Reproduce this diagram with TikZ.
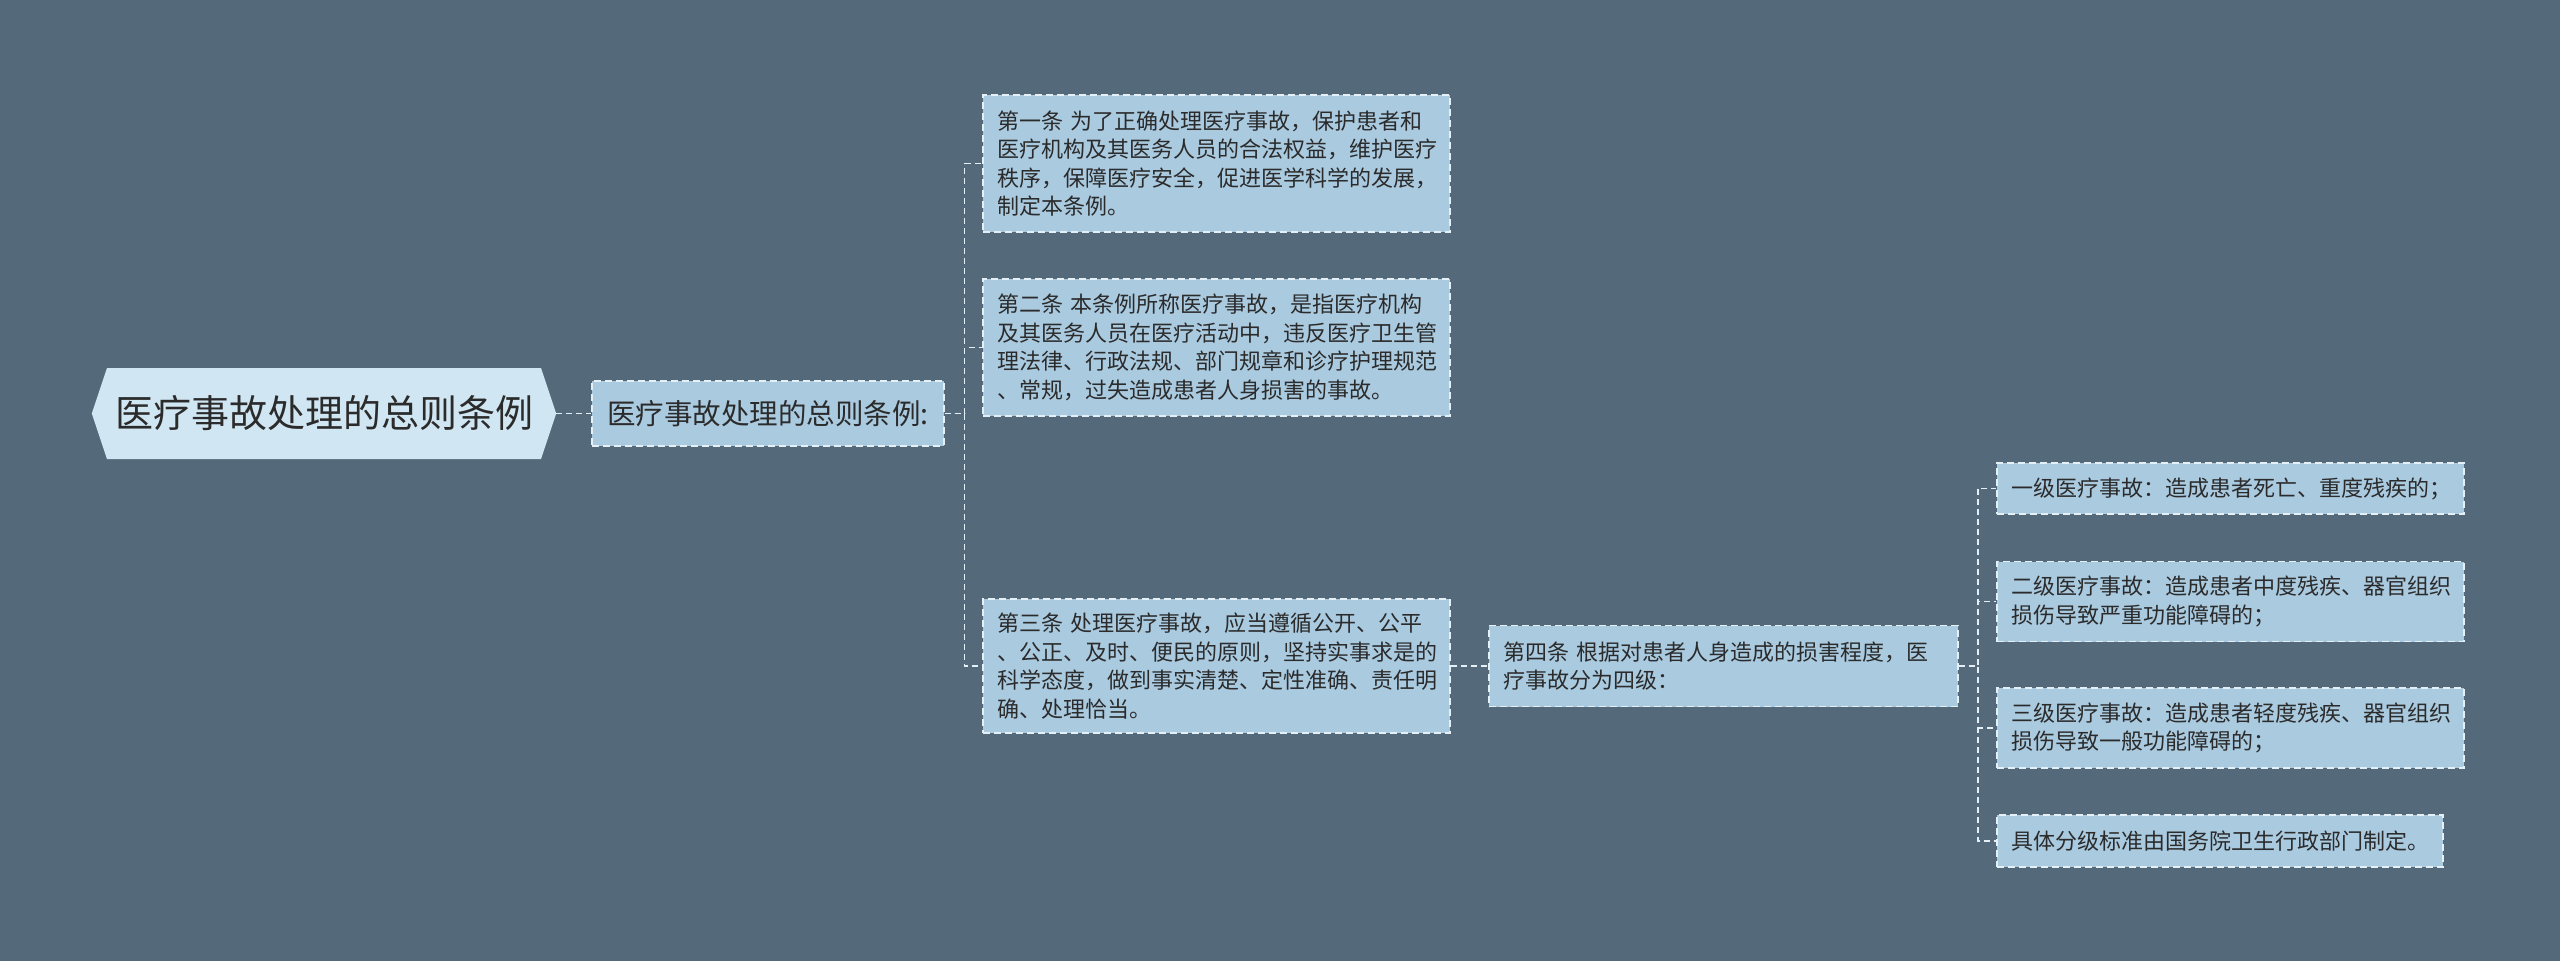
\documentclass[tikz,border=0pt]{standalone}
\usepackage{fontspec}
\setmainfont{Noto Sans CJK SC}
\usepackage{tikz}
\usetikzlibrary{shapes,arrows,positioning}

\definecolor{bgslate}{HTML}{546A7A}
\definecolor{rootblue}{HTML}{D0E6F2}
\definecolor{boxblue}{HTML}{AACAE0}
\definecolor{dashwhite}{HTML}{E4EFF6}
\definecolor{inkgray}{HTML}{2B2B2B}

\tikzset{
  box/.style={draw=dashwhite, fill=boxblue, line width=1.6pt, dash pattern=on 7pt off 4pt,
    text=inkgray, align=left, inner xsep=14pt, inner ysep=0pt,
    font=\fontsize{22}{28.5}\selectfont},
  link/.style={draw=dashwhite, line width=1.6pt, dash pattern=on 6pt off 4pt},
}

\begin{document}
\begin{tikzpicture}[x=1pt,y=-1pt]
\fill[bgslate] (0,0) rectangle (2560,961);

\node[signal, signal to=west and east, signal pointer angle=143, fill=rootblue, text=inkgray,
  minimum width=460pt, minimum height=91pt, inner xsep=8pt, font=\fontsize{38}{40}\selectfont]
  (root) at (324,413.5) {医疗事故处理的总则条例};

\node[box, inner xsep=15pt, minimum height=65pt, font=\fontsize{28.5}{30}\selectfont]
  (sub) at (768,413.5) {医疗事故处理的总则条例:};

\node[box, text width=439pt, minimum height=137pt] (art1) at (1216.5,163.5)
  {第一条 为了正确处理医疗事故，保护患者和\\医疗机构及其医务人员的合法权益，维护医疗\\秩序，保障医疗安全，促进医学科学的发展，\\制定本条例。};
\node[box, text width=439pt, minimum height=137pt] (art2) at (1216.5,347.5)
  {第二条 本条例所称医疗事故，是指医疗机构\\及其医务人员在医疗活动中，违反医疗卫生管\\理法律、行政法规、部门规章和诊疗护理规范\\、常规，过失造成患者人身损害的事故。};
\node[box, text width=439pt, minimum height=134pt] (art3) at (1216.5,666)
  {第三条 处理医疗事故，应当遵循公开、公平\\、公正、及时、便民的原则，坚持实事求是的\\科学态度，做到事实清楚、定性准确、责任明\\确、处理恰当。};
\node[box, text width=441pt, minimum height=81pt] (art4) at (1723.5,666)
  {第四条 根据对患者人身造成的损害程度，医\\疗事故分为四级：};

\node[box, text width=439pt, minimum height=51pt] (lvl1) at (2230.5,488.5)
  {一级医疗事故：造成患者死亡、重度残疾的；};
\node[box, text width=439pt, minimum height=80pt] (lvl2) at (2230.5,601.5)
  {二级医疗事故：造成患者中度残疾、器官组织\\损伤导致严重功能障碍的；};
\node[box, text width=439pt, minimum height=80pt] (lvl3) at (2230.5,728)
  {三级医疗事故：造成患者轻度残疾、器官组织\\损伤导致一般功能障碍的；};
\node[box, text width=418pt, minimum height=52pt] (lvl4) at (2220,841)
  {具体分级标准由国务院卫生行政部门制定。};

\draw[link] (root.east) -- (sub.west);
\foreach \n in {art1,art2,art3}
  \draw[link] (sub.east) -- ++(20,0) |- (\n.west);
\draw[link] (art3.east) -- (art4.west);
\foreach \n in {lvl1,lvl2,lvl3,lvl4}
  \draw[link] (art4.east) -- ++(19,0) |- (\n.west);
\end{tikzpicture}
\end{document}
